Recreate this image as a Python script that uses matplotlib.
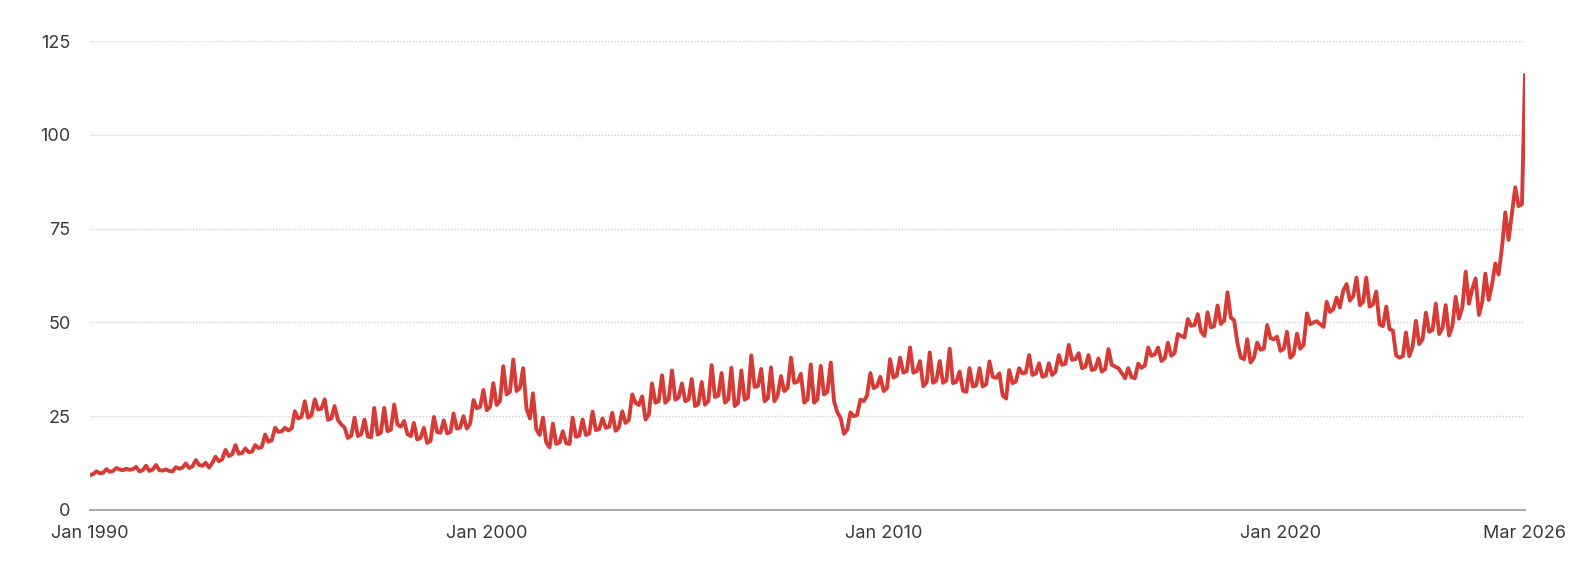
import matplotlib
matplotlib.use("Agg")
import matplotlib.pyplot as plt
import pandas as pd

# Monthly index values, Jan 1990 .. Mar 2026
values = [
    9.3, 9.6, 10.3, 9.8, 9.9, 10.9, 10.2, 10.4, 11.2, 10.8, 10.6, 11.0,      # 1990
    10.7, 10.9, 11.5, 10.3, 10.6, 11.8, 10.4, 10.8, 12.0, 10.6, 10.5, 10.8,  # 1991
    10.4, 10.3, 11.4, 11.0, 11.3, 12.4, 11.2, 11.6, 13.3, 12.0, 11.8, 12.6,  # 1992
    11.3, 12.6, 14.2, 13.0, 13.5, 16.0, 14.4, 14.8, 17.3, 15.0, 15.2, 16.4,  # 1993
    15.4, 15.6, 17.3, 16.5, 16.8, 20.1, 18.2, 18.6, 21.9, 20.8, 21.0, 21.9,  # 1994
    21.2, 21.8, 26.3, 24.4, 24.8, 29.0, 24.6, 25.2, 29.5, 26.8, 27.0, 29.5,  # 1995
    24.0, 24.5, 27.7, 24.0, 22.8, 22.0, 19.2, 19.8, 24.6, 19.7, 20.2, 24.1,  # 1996
    19.6, 19.4, 27.2, 20.1, 20.6, 27.2, 21.0, 21.4, 28.1, 22.8, 22.2, 23.7,  # 1997
    20.2, 19.7, 23.2, 18.8, 19.2, 21.9, 17.9, 18.4, 24.8, 20.8, 20.6, 23.9,  # 1998
    20.4, 20.8, 25.7, 21.7, 22.0, 25.0, 21.7, 23.0, 29.3, 27.1, 27.5, 32.0,  # 1999
    26.6, 27.5, 33.8, 28.0, 29.0, 38.3, 30.8, 31.5, 40.1, 31.7, 32.5, 37.8,  # 2000
    27.0, 24.4, 31.1, 21.5, 20.0, 24.6, 18.0, 16.7, 23.0, 17.6, 18.0, 21.0,  # 2001
    17.8, 17.6, 24.6, 19.5, 19.8, 24.1, 20.0, 20.4, 26.2, 21.3, 21.6, 24.4,  # 2002
    21.9, 22.2, 25.9, 21.1, 22.0, 26.3, 23.2, 24.0, 30.8, 28.6, 28.0, 30.3,  # 2003
    24.1, 25.5, 33.7, 28.6, 29.0, 35.9, 28.6, 29.5, 37.2, 29.4, 30.0, 33.7,  # 2004
    29.0, 29.5, 34.9, 27.7, 28.2, 34.1, 28.1, 29.0, 38.6, 30.1, 30.5, 36.5,  # 2005
    28.6, 29.5, 37.9, 27.7, 28.5, 37.2, 29.4, 30.0, 41.2, 32.8, 33.0, 37.6,  # 2006
    29.0, 29.8, 38.0, 29.0, 30.5, 35.7, 31.7, 32.5, 40.6, 33.9, 34.2, 36.3,  # 2007
    28.6, 29.5, 38.8, 28.6, 29.5, 38.4, 30.8, 31.5, 39.3, 29.0, 26.0, 24.5,  # 2008
    20.3, 21.5, 26.0, 25.0, 25.3, 29.4, 29.0, 30.5, 36.5, 32.5, 33.0, 35.5,  # 2009
    31.7, 32.5, 40.2, 35.3, 35.8, 40.6, 36.6, 37.0, 43.3, 36.6, 37.0, 39.7,  # 2010
    33.0, 34.0, 42.0, 33.9, 34.5, 39.7, 33.9, 34.5, 43.0, 33.8, 34.2, 36.9,  # 2011
    31.8, 31.5, 37.8, 32.9, 33.2, 37.8, 32.9, 33.5, 39.6, 35.5, 35.2, 36.4,  # 2012
    30.5, 29.7, 37.3, 33.8, 34.2, 37.8, 36.4, 36.6, 41.3, 36.0, 36.4, 39.1,  # 2013
    35.5, 35.8, 39.1, 36.0, 36.8, 41.3, 38.7, 39.0, 44.0, 40.0, 40.2, 41.8,  # 2014
    37.8, 38.2, 41.3, 37.3, 37.6, 40.4, 36.9, 37.5, 42.9, 38.7, 38.2, 37.8,  # 2015
    36.5, 35.1, 37.8, 35.4, 35.1, 39.0, 37.9, 38.5, 43.3, 41.1, 41.5, 43.3,  # 2016
    39.7, 40.5, 44.6, 41.1, 41.8, 46.9, 46.4, 46.0, 50.9, 49.1, 49.3, 52.2,  # 2017
    47.5, 46.4, 52.7, 48.7, 49.0, 54.5, 49.6, 50.5, 58.0, 51.3, 50.5, 44.5,  # 2018
    40.6, 40.2, 45.5, 39.3, 40.5, 44.6, 42.7, 43.0, 49.3, 45.8, 45.5, 46.2,  # 2019
    42.4, 43.0, 47.5, 40.6, 41.5, 47.0, 43.0, 44.0, 52.4, 49.5, 50.0, 50.3,  # 2020
    49.5, 48.8, 55.5, 52.8, 53.5, 56.6, 54.0, 58.5, 60.2, 55.8, 57.0, 61.9,  # 2021
    54.6, 55.5, 61.9, 54.2, 54.8, 58.2, 49.5, 49.0, 54.2, 48.2, 47.8, 41.2,  # 2022
    40.6, 41.0, 47.3, 41.0, 43.5, 50.4, 44.2, 45.5, 52.6, 47.5, 48.0, 55.0,  # 2023
    46.9, 48.5, 54.6, 46.5, 49.0, 56.8, 51.0, 54.0, 63.5, 55.0, 59.0, 61.7,  # 2024
    52.0, 55.5, 63.0, 56.0, 60.0, 65.7, 62.8, 70.0, 79.3, 72.0, 79.0, 86.0,  # 2025
    81.0, 81.5, 116.0,                                                       # 2026
]
months = pd.date_range("1990-01-01", periods=len(values), freq="MS")

tick_dates = pd.to_datetime(["1990-01-01", "2000-01-01", "2010-01-01", "2020-01-01", "2026-03-01"])
tick_labels = ["Jan 1990", "Jan 2000", "Jan 2010", "Jan 2020", "Mar 2026"]
y_ticks = [0, 25, 50, 75, 100, 125]

plt.rcParams["font.family"] = ["Inter", "DejaVu Sans"]

fig = plt.figure(figsize=(15.84, 5.67), dpi=100)
ax = fig.add_axes([90 / 1584, 57 / 567, (1525 - 90) / 1584, (510 - 41) / 567])

ax.plot(months, values, color="#d63b36", linewidth=2.8,
        solid_joinstyle="round", solid_capstyle="round")

ax.set_xlim(months[0], months[-1])
ax.set_ylim(0, 125)
ax.set_yticks(y_ticks)
ax.set_yticklabels([str(v) for v in y_ticks])
ax.set_xticks(tick_dates)
ax.set_xticklabels(tick_labels)

for v in y_ticks[1:]:
    ax.axhline(v, color="#cfcfcf", linewidth=1.0, linestyle=(0, (1.0, 1.3)), zorder=0)

for s in ["top", "right", "left"]:
    ax.spines[s].set_visible(False)
ax.spines["bottom"].set_color("#9a9a9a")
ax.spines["bottom"].set_linewidth(1.2)

ax.tick_params(axis="both", length=0, labelsize=13, labelcolor="#3a3a3a")
ax.tick_params(axis="y", pad=14)
ax.tick_params(axis="x", pad=11)

fig.savefig("out.png", dpi=100, facecolor="white")
